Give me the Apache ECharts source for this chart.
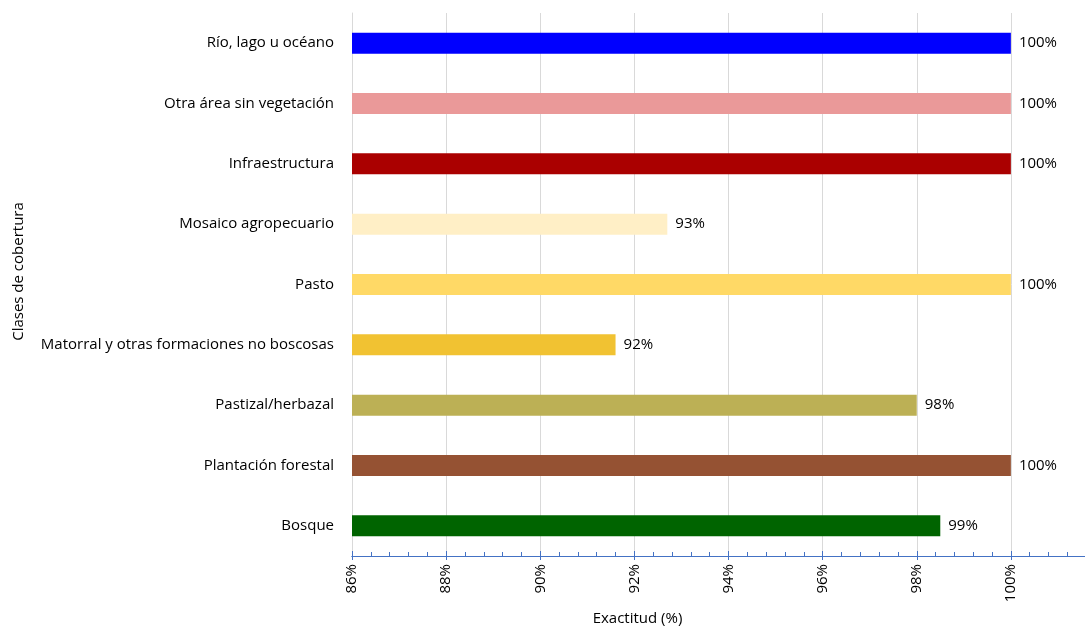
<!DOCTYPE html>
<html>
<head>
<meta charset="utf-8">
<script src="https://cdn.jsdelivr.net/npm/echarts@6/dist/echarts.min.js"></script>
<style>
  html, body { margin: 0; padding: 0; background: #fff; }
  #chart { width: 1085px; height: 628px; }
</style>
</head>
<body>
<div id="chart"></div>
<script>
// Land-cover classes, top to bottom
const categories = [
  'Río, lago u océano',
  'Otra área sin vegetación',
  'Infraestructura',
  'Mosaico agropecuario',
  'Pasto',
  'Matorral y otras formaciones no boscosas',
  'Pastizal/herbazal',
  'Plantación forestal',
  'Bosque'
];
// Accuracy per class (%)
const accuracy = [100, 100, 100, 92.7, 100, 91.6, 98.0, 100, 98.5];
// Bar colour per class
const classColors = [
  '#0000FF', '#EA9999', '#AA0000', '#FFEFC6', '#FFD966',
  '#F1C232', '#BCB055', '#955233', '#006400'
];
// Tick labels shown on the accuracy axis
const tickLabels = [86, 88, 90, 92, 94, 96, 98, 100];

const FONT = '"Open Sans", sans-serif';
const FS = 15;
const AXIS_BLUE = '#4472C4';

const chart = echarts.init(document.getElementById('chart'), null, { renderer: 'canvas' });

const axisBase = { type: 'value', min: 86, max: 102, interval: 2, position: 'bottom' };

chart.setOption({
  animation: false,
  grid: { left: 352, right: -20, top: 13, bottom: 72, containLabel: false, outerBoundsMode: 'none' },
  xAxis: [
    Object.assign({}, axisBase, {
      name: 'Exactitud (%)',
      nameLocation: 'middle',
      nameGap: 55,
      nameTextStyle: { color: '#000', fontSize: FS, fontFamily: FONT, padding: [0, 182, 0, 0] },
      axisLine: { show: true, lineStyle: { color: AXIS_BLUE, width: 1 } },
      axisTick: { show: true, length: 4, lineStyle: { color: AXIS_BLUE } },
      minorTick: { show: false },
      splitLine: { show: true, showMaxLine: false, lineStyle: { color: '#D9D9D9', width: 1 } },
      axisLabel: {
        rotate: 90,
        margin: 8,
        color: '#000',
        fontSize: FS,
        fontFamily: FONT,
        formatter: v => tickLabels.indexOf(v) >= 0 ? v + '%' : ''
      }
    }),
    Object.assign({}, axisBase, {
      axisLine: { show: true, lineStyle: { color: AXIS_BLUE, width: 1 } },
      axisTick: { show: true, inside: true, length: 5, lineStyle: { color: AXIS_BLUE } },
      minorTick: { show: true, splitNumber: 5, length: 4, lineStyle: { color: AXIS_BLUE } },
      splitLine: { show: false },
      axisLabel: { show: false }
    })
  ],
  yAxis: {
    type: 'category',
    inverse: true,
    data: categories,
    name: 'Clases de cobertura',
    nameLocation: 'middle',
    nameGap: 326,
    nameTextStyle: { color: '#000', fontSize: FS, fontFamily: FONT, padding: [0, 0, 0, 26] },
    axisLine: { show: true, lineStyle: { color: '#D9D9D9', width: 1 } },
    axisTick: { show: false },
    splitLine: { show: false },
    axisLabel: { color: '#000', fontSize: FS, fontFamily: FONT, margin: 18 }
  },
  series: [{
    type: 'bar',
    xAxisIndex: 0,
    data: accuracy,
    barWidth: 21,
    itemStyle: { color: p => classColors[p.dataIndex] },
    label: {
      show: true,
      position: 'right',
      distance: 8,
      color: '#000',
      fontSize: FS,
      fontFamily: FONT,
      formatter: p => Math.round(p.value) + '%'
    }
  }]
});
</script>
</body>
</html>
